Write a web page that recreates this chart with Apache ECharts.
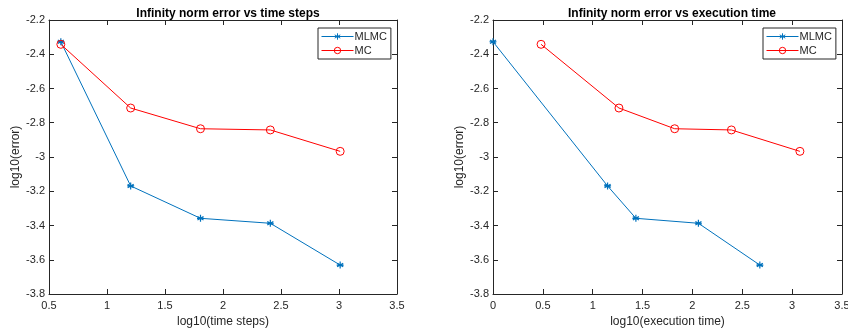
<!DOCTYPE html>
<html>
<head>
<meta charset="utf-8">
<script src="https://cdn.jsdelivr.net/npm/echarts@6/dist/echarts.min.js"></script>
<style>
  html, body { margin: 0; padding: 0; background: #fff; }
  #chart { width: 848px; height: 331px; }
</style>
</head>
<body>
<div id="chart"></div>
<script>
// left panel: error vs log10(time steps)
const stepsX = [0.602, 1.204, 1.806, 2.408, 3.010];
const mlmcErrSteps = [-2.327, -3.169, -3.358, -3.387, -3.631];
const mcErrSteps = [-2.342, -2.714, -2.835, -2.842, -2.967];

// right panel: error vs log10(execution time)
const mlmcTimeX = [0, 1.149, 1.433, 2.060, 2.676];
const mcTimeX = [0.482, 1.263, 1.822, 2.391, 3.078];
const mlmcErrTime = [-2.327, -3.169, -3.358, -3.387, -3.631];
const mcErrTime = [-2.342, -2.714, -2.835, -2.842, -2.967];

const titles = ['Infinity norm error vs time steps', 'Infinity norm error vs execution time'];
const xNames = ['log10(time steps)', 'log10(execution time)'];

const BLUE = '#0072BD';
const RED = '#FF0000';
const INK = '#262626';
const FONT = 'Liberation Sans, Arial, sans-serif';

const star = 'path://M0,-10L0,10M-8.66,-5L8.66,5M-8.66,5L8.66,-5M-10,0L10,0';

const zip = (xs, ys) => xs.map((x, i) => [x, ys[i]]);

const chart = echarts.init(document.getElementById('chart'), null, { renderer: 'canvas' });

const grids = [
  { left: 49, right: 451, top: 20, bottom: 37, outerBoundsMode: 'none', containLabel: false },
  { left: 493, right: 6, top: 20, bottom: 37, outerBoundsMode: 'none', containLabel: false },
];

function xAxes(gi, min) {
  const base = {
    gridIndex: gi, type: 'value', min: min, max: 3.5, interval: 0.5,
    axisLine: { show: true, onZero: false, lineStyle: { color: INK, width: 1 } },
    axisTick: { show: true, inside: true, length: 5, lineStyle: { color: INK } },
    splitLine: { show: false },
  };
  return [
    Object.assign({}, base, {
      position: 'bottom',
      name: xNames[gi], nameLocation: 'middle', nameGap: 22,
      nameTextStyle: { color: INK, fontSize: 12, fontFamily: FONT },
      axisLabel: { color: INK, fontSize: 11, fontFamily: FONT, margin: 6 },
    }),
    Object.assign({}, base, { position: 'top', axisLabel: { show: false } }),
  ];
}

function yAxes(gi) {
  const base = {
    gridIndex: gi, type: 'value', min: -3.8, max: -2.2, interval: 0.2,
    axisLine: { show: true, onZero: false, lineStyle: { color: INK, width: 1 } },
    axisTick: { show: true, inside: true, length: 5, lineStyle: { color: INK } },
    splitLine: { show: false },
  };
  return [
    Object.assign({}, base, {
      position: 'left',
      name: 'log10(error)', nameLocation: 'middle', nameGap: 27, nameRotate: 90,
      nameTextStyle: { color: INK, fontSize: 12, fontFamily: FONT },
      axisLabel: { color: INK, fontSize: 11, fontFamily: FONT, margin: 4 },
    }),
    Object.assign({}, base, { position: 'right', axisLabel: { show: false } }),
  ];
}

function mlmcSeries(xi, yi, data) {
  return {
    name: 'MLMC', type: 'line', xAxisIndex: xi, yAxisIndex: yi, data: data,
    symbol: star, symbolSize: 7,
    lineStyle: { color: BLUE, width: 1 },
    itemStyle: { color: 'rgba(0,0,0,0)', borderColor: BLUE, borderWidth: 1.2 },
    animation: false,
  };
}

function mcSeries(xi, yi, data) {
  return {
    name: 'MC', type: 'line', xAxisIndex: xi, yAxisIndex: yi, data: data,
    symbol: 'circle', symbolSize: 8,
    lineStyle: { color: RED, width: 1 },
    itemStyle: { color: 'rgba(0,0,0,0)', borderColor: RED, borderWidth: 1 },
    animation: false,
  };
}

function legendAt(left) {
  return {
    left: left, top: 28, orient: 'vertical',
    data: ['MLMC', 'MC'],
    itemWidth: 32, itemHeight: 8, itemGap: 3,
    padding: [3, 4, 3, 3],
    backgroundColor: '#fff',
    borderColor: INK, borderWidth: 1,
    lineStyle: { width: 1 },
    itemStyle: { borderWidth: 1 },
    textStyle: { color: INK, fontSize: 11, fontFamily: FONT, padding: [0, 0, 0, -4] },
    selectedMode: false,
  };
}

chart.setOption({
  animation: false,
  title: [
    { text: titles[0], left: 223, top: 3, textAlign: 'center',
      textStyle: { color: '#000', fontSize: 12, fontWeight: 'bold', fontFamily: FONT } },
    { text: titles[1], left: 667, top: 3, textAlign: 'center',
      textStyle: { color: '#000', fontSize: 12, fontWeight: 'bold', fontFamily: FONT } },
  ],
  grid: grids,
  xAxis: xAxes(0, 0.5).concat(xAxes(1, 0)),
  yAxis: yAxes(0).concat(yAxes(1)),
  legend: [legendAt(318), legendAt(763)],
  series: [
    mlmcSeries(0, 0, zip(stepsX, mlmcErrSteps)),
    mcSeries(0, 0, zip(stepsX, mcErrSteps)),
    mlmcSeries(2, 2, zip(mlmcTimeX, mlmcErrTime)),
    mcSeries(2, 2, zip(mcTimeX, mcErrTime)),
  ],
});
</script>
</body>
</html>
